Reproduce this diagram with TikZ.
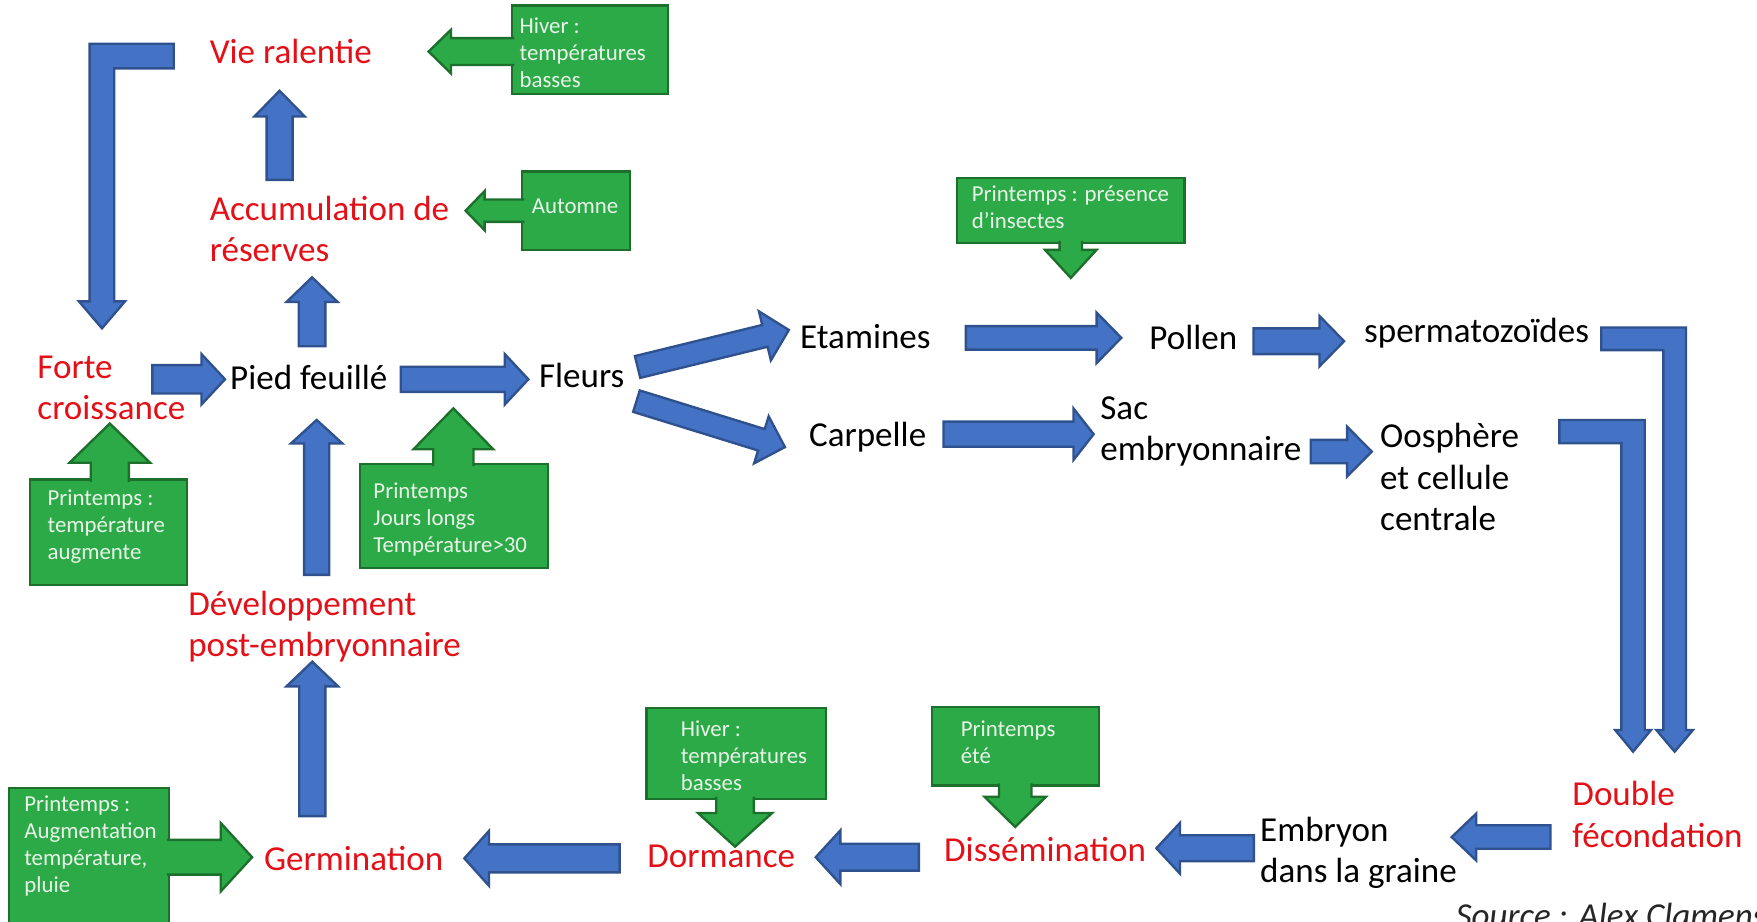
\documentclass[tikz,border=0pt]{standalone}
\usepackage{fontspec}
\setmainfont{Carlito}
\usepackage{tikz}
\usetikzlibrary{calc,fit}

\definecolor{arrowblue}{RGB}{68,114,196}
\definecolor{arrowedge}{RGB}{47,82,143}
\definecolor{boxgreen}{RGB}{44,170,72}
\definecolor{boxedge}{RGB}{28,112,44}
\definecolor{stagered}{RGB}{228,16,24}
\definecolor{notewhite}{RGB}{232,245,232}

\newcommand\labfont{\fontsize{8.9}{10.5}\selectfont}
\newcommand\notefont{\fontsize{5.8}{6.85}\selectfont}

\tikzset{
  shaft/.store in=\sw, headw/.store in=\hw, headl/.store in=\hl,
  shaft=1.12mm, headw=2.25mm, headl=2.2mm,
}

% straight block arrow: #1 style, #2 tail, #3 tip, #4 closing of the outline
\newcommand\blockpath[4]{%
  \begin{scope}[#1]
    \coordinate (hb) at ($(#3)!\hl!(#2)$);
    \filldraw ($(#2)!\sw!90:(#3)$) -- ($(hb)!\sw!-90:(#2)$) -- ($(hb)!\hw!-90:(#2)$) -- (#3)
      -- ($(hb)!\hw!90:(#2)$) -- ($(hb)!\sw!90:(#2)$) -- ($(#2)!\sw!-90:(#3)$) #4;
  \end{scope}}
\newcommand\barrow[3][]{\blockpath{bluearr,#1}{#2}{#3}{-- cycle}}
\newcommand\garrow[3][]{\blockpath{greenarr,#1}{#2}{#3}{}}

% bent block arrow: tail (#1,#2), bend at x=#3, tip at y=#4; half shaft #5, half head #6, head length #7
\newcommand\elbowarrow[7]{%
  \pgfmathsetmacro\dd{sign(#3-#1)}
  \filldraw[bluearr] (#1,{#2-#5}) -- ({#3+\dd*#5},{#2-#5}) -- ({#3+\dd*#5},{#4-#7})
    -- ({#3+\dd*#6},{#4-#7}) -- (#3,#4) -- ({#3-\dd*#6},{#4-#7})
    -- ({#3-\dd*#5},{#4-#7}) -- ({#3-\dd*#5},{#2+#5}) -- (#1,{#2+#5}) -- cycle;
}

\begin{document}
\begin{tikzpicture}[
    x=0.1mm, y=-0.1mm,
    % multi-line labels: the base anchor sits on the last line
    stage/.style={anchor=base west, inner sep=0pt, align=left, font=\labfont, text=stagered},
    organ/.style={stage, text=black},
    gbox/.style={rectangle, draw=boxedge, fill=boxgreen, line width=0.6pt, inner sep=0pt},
    gtext/.style={anchor=base west, inner sep=0pt, align=left, font=\notefont, text=notewhite},
    bluearr/.style={fill=arrowblue, draw=arrowedge, line width=0.6pt, line join=miter},
    greenarr/.style={fill=boxgreen, draw=boxedge, line width=0.6pt, line join=miter},
]

\useasboundingbox (0,0) rectangle (1568,822);
\fill[white] (0,0) rectangle (1568,822);

% === CONDITIONS (green callouts) ===
\node[gbox, fit={(457,5) (596,84)}]      (hiverA)   {};
\node[gbox, fit={(466,153) (562,223)}]   (automne)  {};
\node[gbox, fit={(854,159) (1057,217)}]  (insectes) {};
\node[gbox, fit={(27,428) (167,522)}]    (printA)   {};
\node[gbox, fit={(321,414) (489,507)}]   (printB)   {};
\node[gbox, fit={(8,703) (151,825)}]     (printC)   {};
\node[gbox, fit={(577,632) (737,713)}]   (hiverB)   {};
\node[gbox, fit={(832,631) (981,701)}]   (printD)   {};

\garrow[shaft=1.2mm, headw=1.95mm, headl=2mm]{459,46}{382.5,46}
\garrow[shaft=1mm, headw=1.75mm, headl=1.7mm]{468,188}{415.5,188}
\garrow[shaft=1mm, headw=2.3mm, headl=2.5mm]{955.6,215}{955.6,248}
\garrow[shaft=1.7mm, headw=3.6mm, headl=3.5mm]{98,430}{98,378}
\garrow[shaft=1.8mm, headw=3.55mm, headl=3.65mm]{404.6,416}{404.6,364.4}
\garrow[shaft=1.55mm, headw=3.05mm, headl=2.8mm]{149,765}{225,765}
\garrow[shaft=1.68mm, headw=3.3mm, headl=3mm]{656,711}{656,755.6}
\garrow[shaft=1.45mm, headw=2.75mm, headl=2.7mm]{906,699}{906,738}

\node[gtext] (hiverAtxt)   at (463,77.9)   {Hiver :\\températures\\basses};
\node[gtext] (automnetxt)  at (474,190.4)  {Automne};
\node[gtext] (insectestxt) at (866.6,204.1) {Printemps : présence\\d’insectes};
\node[gtext] (printAtxt)   at (41.8,498.9) {Printemps :\\température\\augmente};
\node[gtext] (printBtxt)   at (332.6,492.9) {Printemps\\Jours longs\\Température>30};
\node[gtext] (printCtxt)   at (21,796.7)   {Printemps :\\Augmentation\\température,\\pluie};
\node[gtext] (hiverBtxt)   at (606.9,705.6) {Hiver :\\températures\\basses};
\node[gtext] (printDtxt)   at (856.8,681.5) {Printemps\\été};

% === VEGETATIVE PART ===
\elbowarrow{155}{50}{91}{293}{11}{20.5}{24}
\barrow[shaft=1.16mm, headl=2.3mm]{249.5,160.5}{249.5,81}
\barrow[shaft=1.19mm, headw=2.28mm]{278.5,309}{278.5,247.5}
\barrow[shaft=1.27mm, headl=2.1mm]{136,338.5}{200.8,338.5}
\barrow[headl=2.1mm]{357.6,338.5}{471.5,338.5}
\barrow[headw=2.3mm, headl=2.1mm]{282.6,513}{282.6,374.8}
\barrow[shaft=1.17mm, headw=2.3mm]{278.7,728.3}{278.7,590.5}

% === FLOWERS ===
\barrow[shaft=1mm]{569,327.5}{704,294.5}
\barrow[shaft=1mm, headw=2.2mm]{568,358}{700.5,399}
\barrow[shaft=1.05mm]{862,301.5}{1000.7,301.5}
\barrow[shaft=1.15mm]{1118.6,304.5}{1199.5,304.5}
\barrow[headw=2.3mm, headl=1.8mm]{842,387.5}{976,387.5}
\barrow[shaft=1.04mm, headw=2.22mm]{1169.7,403}{1224.2,403}
\elbowarrow{1429}{302.4}{1494.5}{670.8}{10.1}{16.3}{19.3}
\elbowarrow{1391.6}{385.2}{1457.4}{670.8}{10.4}{16}{19.3}

% === SEED ===
\barrow[shaft=1.05mm, headw=2.1mm]{1383.7,747}{1295.5,747}
\barrow[shaft=1.16mm, headw=2.26mm, headl=2.1mm]{1119,757}{1032,757}
\barrow[shaft=1.2mm, headw=2.4mm]{820,765}{728,765}
\barrow[shaft=1.25mm, headw=2.45mm]{553,766}{414.4,766}

% === LABELS ===
\node[stage] (vie)    at (186.5,56.5)  {Vie ralentie};
\node[stage] (accu)   at (186.5,233.3) {Accumulation de\\réserves};
\node[stage] (forte)  at (32.7,374.6)  {Forte\\croissance};
\node[organ] (pied)   at (204.7,347.5) {Pied feuillé};
\node[organ] (fleurs) at (480.4,345.7) {Fleurs};
\node[organ] (etam)   at (713.4,310.9) {Etamines};
\node[organ] (carp)   at (721.4,398.6) {Carpelle};
\node[organ] (pollen) at (1025.1,311.5) {Pollen};
\node[organ] (sperm)  at (1216.7,305.8) {spermatozoïdes};
\node[organ] (sac)    at (981.3,411.2) {Sac\\embryonnaire};
\node[organ] (oosph)  at (1231,473.5)  {Oosphère\\et cellule\\centrale};
\node[stage] (devel)  at (167.3,585.9) {Développement\\post-embryonnaire};
\node[stage] (germ)   at (235,777)     {Germination};
\node[stage] (dorm)   at (577,774)     {Dormance};
\node[stage] (dissem) at (841.9,769)   {Dissémination};
\node[organ] (embr)   at (1123.9,788)  {Embryon\\dans la graine};
\node[stage] (double) at (1402.6,756)  {Double\\fécondation};
\node[organ, font=\labfont\itshape, text=black!85] (source) at (1298.5,827.5) {Source : Alex Clamens};

\end{tikzpicture}
\end{document}
